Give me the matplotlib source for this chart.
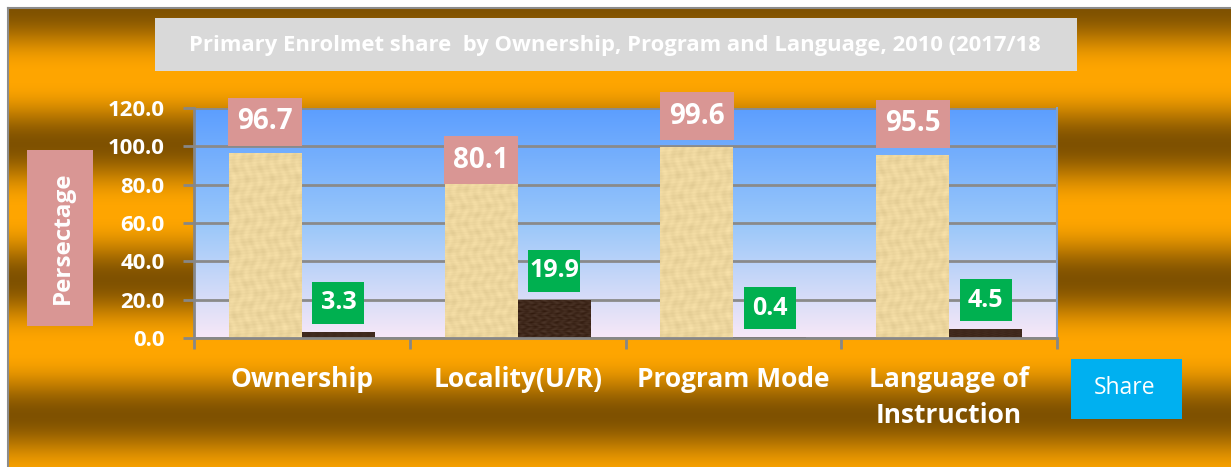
import numpy as np
import matplotlib
matplotlib.use("Agg")
import matplotlib.pyplot as plt
from matplotlib.patches import Rectangle
from matplotlib.lines import Line2D

# ---------------- data ----------------
categories = ["Ownership", "Locality(U/R)", "Program Mode", "Language of\nInstruction"]
series_a = [96.7, 80.1, 99.6, 95.5]   # larger share (textured light bars)
series_b = [3.3, 19.9, 0.4, 4.5]      # smaller share (dark bars)
yticks = [0, 20, 40, 60, 80, 100, 120]
title = "Primary Enrolmet share  by Ownership, Program and Language, 2010 (2017/18"
ylabel = "Persectage"
legend_label = "Share"

# ---------------- styling ----------------
W, H = 1231, 467
FONT = "Open Sans"
fig = plt.figure(figsize=(W / 100, H / 100), dpi=100, facecolor="white")

def fx(x):
    return x / W

def fy(y):
    return 1 - y / H

# background banded gold gradient
bg = fig.add_axes([fx(8), 0, 1 - fx(8), fy(8)], zorder=-10)
bg.set_axis_off()
ys = np.arange(8, H + 1)
mix = (1 + np.cos(2 * np.pi * (ys - 8) / 136.0)) / 2
mix = mix ** 1.3
orange = np.array([1.0, 0.65, 0.0])
dark = np.array([0.50, 0.32, 0.0])
col = orange[None, :] * (1 - mix[:, None]) + dark[None, :] * mix[:, None]
bgimg = np.repeat(col[:, None, :], 4, axis=1)
bg.imshow(bgimg, aspect="auto", extent=[0, 1, 0, 1], transform=bg.transAxes, interpolation="bilinear")
fig.add_artist(Line2D([fx(7.5), fx(7.5)], [0, fy(7.5)], color="#8c8c8c", lw=1.5))
fig.add_artist(Line2D([fx(7.5), 1], [fy(7.5), fy(7.5)], color="#8c8c8c", lw=1.5))

# title box
fig.add_artist(Rectangle((fx(155), fy(71)), fx(1077) - fx(155), fy(18) - fy(71),
                         transform=fig.transFigure, facecolor="#D9D9D9", edgecolor="none", zorder=1))
fig.text(fx(615), fy(45), title, color="white", fontsize=15.8, fontweight="bold",
         family=FONT, ha="center", va="center", zorder=2)

# y label box
fig.add_artist(Rectangle((fx(27), fy(326)), fx(93) - fx(27), fy(150) - fy(326),
                         transform=fig.transFigure, facecolor="#D99694", edgecolor="none", zorder=1))
fig.text(fx(63), fy(238), ylabel, color="white", fontsize=17.5, fontweight="bold",
         family=FONT, ha="center", va="center", rotation=90, zorder=2)

# legend box
fig.add_artist(Rectangle((fx(1071), fy(419)), fx(1182) - fx(1071), fy(359) - fy(419),
                         transform=fig.transFigure, facecolor="#00B0F0", edgecolor="none", zorder=1))
fig.text(fx(1125), fy(388), legend_label, color="white", fontsize=16.5,
         family=FONT, ha="center", va="center", zorder=2)

# plot area
AX_L, AX_R, AX_T, AX_B = 194, 1057, 108, 338
ax = fig.add_axes([fx(AX_L), fy(AX_B), fx(AX_R) - fx(AX_L), fy(AX_T) - fy(AX_B)])
ax.set_xlim(-0.5, len(categories) - 0.5)
ax.set_ylim(0, 120)
px_x = (AX_R - AX_L) / len(categories)
px_y = (AX_B - AX_T) / 120.0

# plot area gradient (blue top -> pink bottom)
t = np.linspace(0, 1, 256)
stops_t = [0.0, 0.5, 1.0]
stops_c = np.array([[0.97, 0.91, 0.97], [0.60, 0.78, 0.98], [0.36, 0.62, 1.0]])
grad = np.stack([np.interp(t, stops_t, stops_c[:, k]) for k in range(3)], axis=1)
gimg = np.repeat(grad[::-1, None, :], 4, axis=1)
ax.imshow(gimg, aspect="auto", extent=[0, 1, 0, 1], transform=ax.transAxes, zorder=0,
          interpolation="bilinear")
ax.set_xlim(-0.5, len(categories) - 0.5)
ax.set_ylim(0, 120)

# textures
def make_texture(base, amp, h=240, w=60, seed_shift=0.0):
    yy, xx = np.mgrid[0:h, 0:w].astype(float)
    v = (np.sin(xx * 0.9 + 2 * np.sin(yy * 0.13 + seed_shift)) * 0.4
         + np.sin(yy * 1.7 + xx * 0.21 + seed_shift) * 0.3
         + np.sin(xx * 0.31 + seed_shift) * np.sin(yy * 0.23) * 0.5
         + np.sin(yy * 0.47 + xx * 0.05) * 0.3)
    img = np.clip(np.array(base)[None, None, :] + amp * v[:, :, None], 0, 1)
    return img

tex_a = make_texture([0.93, 0.84, 0.62], 0.035)
tex_b = make_texture([0.25, 0.16, 0.11], 0.06, seed_shift=1.3)

bw = 73 / px_x
x = np.arange(len(categories))
bars_a = ax.bar(x - bw / 2, series_a, width=bw, color="#EDD59E", zorder=2)
bars_b = ax.bar(x + bw / 2, series_b, width=bw, color="#3D2719", zorder=2)
for bars, tex in ((bars_a, tex_a), (bars_b, tex_b)):
    for b in bars:
        x0, w_, h_ = b.get_x(), b.get_width(), b.get_height()
        im = ax.imshow(tex, extent=[x0, x0 + w_, 0, max(h_, 0.01)], aspect="auto", zorder=2.1,
                       interpolation="bilinear")
        im.set_clip_path(b)
ax.set_xlim(-0.5, len(categories) - 0.5)
ax.set_ylim(0, 120)

# data labels
def label_box(xc, val, text, face, wpx, hpx, off_px, fs):
    yc = val + off_px / px_y
    ax.add_patch(Rectangle((xc - wpx / px_x / 2, yc - hpx / px_y / 2), wpx / px_x, hpx / px_y,
                           facecolor=face, edgecolor="none", zorder=5, clip_on=False))
    ax.text(xc, yc, text, color="white", fontsize=fs, fontweight="bold", family=FONT,
            ha="center", va="center", zorder=6, clip_on=False)

off_a = [31, 24, 31, 31]
for i, v in enumerate(series_a):
    label_box(x[i] - bw / 2, v, f"{v:.1f}", "#D99694", 74, 48, off_a[i], 20)
for i, v in enumerate(series_b):
    label_box(x[i] + bw / 2, v, f"{v:.1f}", "#00B050", 52, 42, 29, 18)

# axes styling
ax.set_yticks(yticks)
ax.set_yticklabels([f"{v:.1f}" for v in yticks], color="white", fontsize=16,
                   fontweight="bold", family=FONT)
ax.yaxis.grid(True, color="#8a8a8a", lw=2)
ax.set_axisbelow(True)
ax.tick_params(axis="y", direction="out", length=8, width=2, color="#878787", pad=13)

ax.set_xticks(np.arange(-0.5, len(categories) + 0.5, 1.0))
ax.set_xticklabels([])
ax.set_xticks(x, minor=True)
ax.set_xticklabels(categories, minor=True, color="white", fontsize=19, fontweight="bold",
                   family=FONT, linespacing=1.45)
ax.tick_params(axis="x", which="major", direction="out", length=8, width=2, color="#878787")
ax.tick_params(axis="x", which="minor", length=0, pad=20)

for s in ("left", "bottom"):
    ax.spines[s].set_color("#878787")
    ax.spines[s].set_linewidth(2)
ax.spines["top"].set_visible(False)
ax.spines["right"].set_color("#7f9fcf")
ax.spines["right"].set_linewidth(1.5)

fig.savefig("out.png", dpi=100, facecolor="white")
